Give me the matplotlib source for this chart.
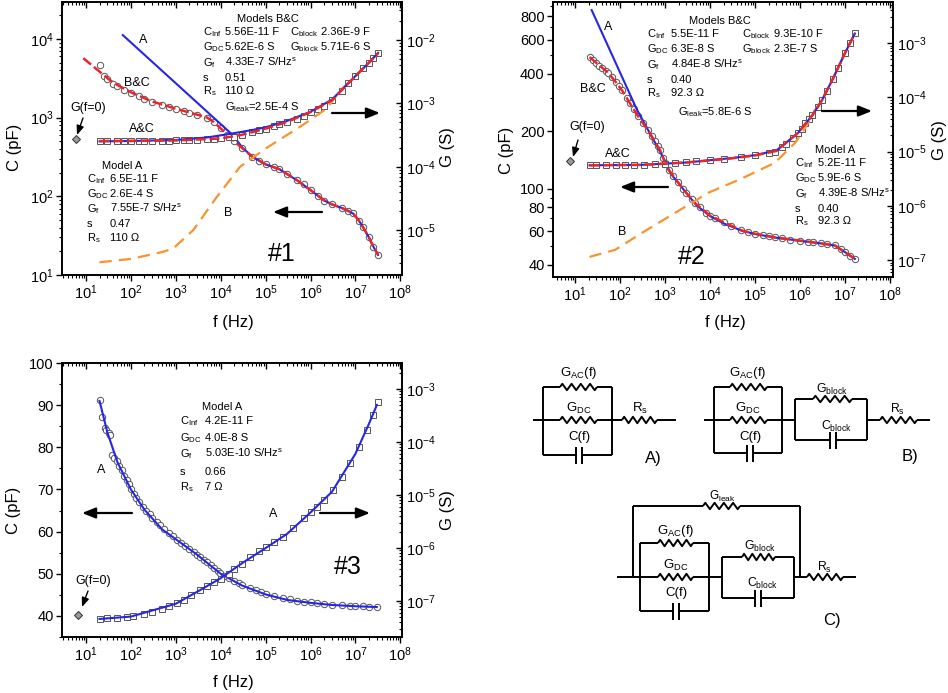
import matplotlib.pyplot as plt
import numpy as np
from matplotlib.ticker import LogLocator, FixedLocator, FuncFormatter, MultipleLocator, NullFormatter

plt.rcParams['font.family'] = ['Liberation Sans', 'DejaVu Sans']
plt.rcParams['mathtext.fontset'] = 'custom'
plt.rcParams['mathtext.rm'] = 'Liberation Sans'
plt.rcParams['mathtext.it'] = 'Liberation Sans:italic'
plt.rcParams['mathtext.sf'] = 'Liberation Sans'
plt.rcParams['mathtext.default'] = 'regular'

# ============================================================
# Data (f in Hz, C in pF, G in S)
# ============================================================

# --- sample #1 ---
f1_c = [20, 25, 30, 40, 50, 70, 100, 150, 200, 300, 500, 700, 1000, 1500, 2000, 3000,
        5000, 7000, 1e4, 1.4e4, 2e4, 3e4, 5e4, 7e4, 1e5, 1.5e5, 2e5, 3e5, 5e5, 7e5,
        1e6, 1.5e6, 2e6, 3e6, 5e6, 7e6, 9e6, 1.2e7, 1.5e7, 2e7, 2.5e7, 3.2e7]
c1 = [4600, 3400, 3100, 2700, 2500, 2250, 2050, 1880, 1750, 1600, 1450, 1370, 1300, 1220,
      1160, 1090, 1000, 880, 730, 610, 500, 410, 320, 285, 255, 237, 224, 190, 159, 142,
      120, 100, 88, 79, 71, 65, 61, 48, 41, 30, 23, 18]
f1_g = [20, 30, 50, 70, 100, 150, 200, 300, 500, 700, 1000, 1500, 2000, 3000, 5000, 7000,
        1e4, 1.5e4, 2e4, 3e4, 5e4, 7e4, 1e5, 1.5e5, 2e5, 3e5, 5e5, 7e5, 1e6, 1.5e6,
        2e6, 3e6, 5e6, 7e6, 1e7, 1.5e7, 2e7, 2.5e7, 3.2e7]
g1 = [2.55e-4, 2.55e-4, 2.55e-4, 2.55e-4, 2.56e-4, 2.56e-4, 2.57e-4, 2.57e-4, 2.58e-4,
      2.59e-4, 2.6e-4, 2.61e-4, 2.62e-4, 2.65e-4, 2.7e-4, 2.74e-4, 2.8e-4, 2.9e-4, 3.0e-4,
      3.2e-4, 3.5e-4, 3.75e-4, 4.0e-4, 4.4e-4, 4.7e-4, 5.1e-4, 5.7e-4, 6.4e-4, 7.3e-4,
      8.2e-4, 9.0e-4, 1.15e-3, 1.55e-3, 2.1e-3, 2.7e-3, 3.6e-3, 4.4e-3, 5.3e-3, 6.2e-3]
modelA_f1_c = [66, 1.86e4, 3e4, 5e4, 1e5, 2e5, 5e5, 1e6, 2e6, 3e6, 5e6, 7e6, 9e6,
               1.2e7, 1.5e7, 2e7, 2.5e7, 3.2e7]
modelA_c1 = [11200, 600, 420, 320, 255, 222, 160, 120, 89, 79, 71, 65, 60, 49, 40, 30, 23, 18]
modelBC_f1_c = [8.7, 20, 34, 50, 100, 300, 1000, 3000, 5000, 7000, 1e4, 1.4e4, 2e4, 3e4,
                5e4, 1e5, 2e5, 5e5, 1e6, 2e6, 3e6, 5e6, 7e6, 9e6, 1.2e7, 1.5e7, 2e7,
                2.5e7, 3.2e7]
modelBC_c1 = [5700, 3850, 3000, 2600, 2100, 1600, 1300, 1090, 1000, 880, 730, 610, 500,
              410, 320, 255, 222, 160, 120, 89, 79, 71, 65, 60, 49, 40, 30, 23, 18]
modelA_f1_g = [20, 100, 1000, 5000, 1.8e4, 5e4, 1e5, 3e5, 1e6, 3e6, 1e7, 2e7, 3.2e7]
modelA_g1 = [2.52e-4, 2.55e-4, 2.65e-4, 2.9e-4, 3.35e-4, 3.8e-4, 4.2e-4, 5.3e-4, 7.4e-4,
             1.15e-3, 2.7e-3, 4.4e-3, 6.3e-3]
modelBC_f1_g = [20, 100, 1000, 1e4, 3e4, 1e5, 3e5, 1e6, 3e6, 1e7, 2e7, 3.2e7]
modelBC_g1 = [2.55e-4, 2.56e-4, 2.6e-4, 2.8e-4, 3.2e-4, 4.0e-4, 5.1e-4, 7.3e-4, 1.12e-3,
              2.7e-3, 4.4e-3, 6.2e-3]
modelB_f1_g = [20, 100, 500, 870, 2450, 8100, 2.7e4, 1.07e5, 5.9e5, 2.3e6, 4.6e6, 1.26e7, 3.2e7]
modelB_g1 = [3.1e-6, 3.5e-6, 4.5e-6, 5.1e-6, 1.0e-5, 3.3e-5, 1.0e-4, 2.0e-4, 4.3e-4,
             8.3e-4, 1.6e-3, 3.2e-3, 6.2e-3]
g0_1 = (6.0, 2.75e-4)

# --- sample #2 ---
f2_c = [21, 25, 30, 35, 40, 48, 55, 65, 80, 95, 110, 140, 166, 200, 250, 320, 420, 520,
        600, 700, 780, 900, 1000, 1200, 1500, 1950, 2500, 3000, 4000, 4700, 6000, 8000,
        1e4, 1.3e4, 2e4, 3e4, 5e4, 7e4, 1e5, 1.5e5, 2e5, 2.8e5, 4e5, 6e5, 1e6, 1.5e6,
        2e6, 3e6, 4e6, 6e6, 8e6, 1e7, 1.3e7, 1.66e7]
c2 = [488, 470, 455, 440, 430, 415, 403, 385, 362, 343, 328, 300, 280, 262, 240, 220, 202,
      188, 178, 167, 159, 145, 137, 126, 116, 108, 100, 95, 88, 84, 80, 75, 72.5, 70, 67,
      64, 60.6, 59.3, 58.3, 57.2, 56.4, 55.7, 55, 54.3, 53.6, 53, 52.5, 51.8, 51.3, 50.6,
      48.6, 46.5, 44.8, 43.2]
f2_g = [21, 30, 50, 80, 130, 200, 350, 600, 1000, 1700, 3000, 5000, 1e4, 2e4, 5e4, 1e5,
        2e5, 2.8e5, 4e5, 5e5, 7e5, 9e5, 1.1e6, 1.3e6, 1.6e6, 1.9e6, 2.5e6, 3.1e6, 4e6,
        5.4e6, 7e6, 1e7, 1.3e7, 1.66e7]
g2 = [5.6e-6, 5.6e-6, 5.6e-6, 5.62e-6, 5.65e-6, 5.67e-6, 5.72e-6, 5.8e-6, 5.9e-6, 6.1e-6,
      6.35e-6, 6.6e-6, 7.0e-6, 7.4e-6, 7.9e-6, 8.6e-6, 9.5e-6, 1.0e-5, 1.2e-5, 1.4e-5,
      1.75e-5, 2.2e-5, 2.6e-5, 3.3e-5, 4.0e-5, 4.7e-5, 6.5e-5, 8.9e-5, 1.3e-4, 2.2e-4,
      3.5e-4, 6.5e-4, 1.0e-3, 1.5e-3]
modelA_f2_c = [23.4, 240, 910, 1200, 1500, 2000, 3000, 5000, 1e4, 2e4, 5e4, 1e5, 3e5,
               1e6, 3e6, 6e6, 1e7, 1.66e7]
modelA_c2 = [860, 258, 146, 126, 116, 107, 95, 82, 72, 66, 60.5, 58, 55.5, 53.5, 51.8,
             50.5, 46.7, 43]
modelBC_f2_c = [21, 40, 55, 80, 110, 166, 250, 420, 780, 1000, 1200, 1950, 3000, 4700,
                1e4, 2e4, 5e4, 1e5, 2.8e5, 1e6, 3e6, 6e6, 1e7, 1.66e7]
modelBC_c2 = [488, 430, 403, 362, 328, 280, 240, 202, 159, 137, 126, 108, 95, 84, 72.5,
              67, 60.6, 58.3, 55.7, 53.6, 51.8, 50.6, 46.5, 43.2]
modelA_f2_g = [21, 300, 3000, 3e4, 1e5, 3e5, 9e5, 1.9e6, 3.1e6, 5.4e6, 1e7, 1.66e7]
modelA_g2 = [5.6e-6, 5.7e-6, 6.3e-6, 7.6e-6, 8.6e-6, 1.05e-5, 2.2e-5, 4.7e-5, 8.9e-5,
             2.2e-4, 6.5e-4, 1.5e-3]
modelBC_f2_g = modelA_f2_g
modelBC_g2 = [5.6e-6, 5.7e-6, 6.3e-6, 7.5e-6, 8.5e-6, 1.03e-5, 2.2e-5, 4.7e-5, 8.9e-5,
              2.2e-4, 6.5e-4, 1.5e-3]
modelB_f2_g = [21, 78, 310, 1660, 9100, 5.1e4, 2.75e5, 7.8e5, 1.3e6, 2.1e6, 3.1e6, 5.4e6,
               1e7, 1.66e7]
modelB_g2 = [1.15e-7, 1.55e-7, 3.2e-7, 7.4e-7, 1.74e-6, 3.2e-6, 6.2e-6, 1.45e-5, 2.7e-5,
             5.6e-5, 8.9e-5, 2.2e-4, 6.5e-4, 1.5e-3]
g0_2 = (7.7, 6.7e-6)

# --- sample #3 ---
f3_c = [20, 23, 26, 28, 32, 34, 38, 42, 48, 55, 62, 70, 80, 90, 100, 115, 130, 150, 186,
        220, 260, 300, 380, 450, 550, 700, 850, 1050, 1300, 1600, 2000, 2500, 3000, 3470,
        4200, 5000, 6000, 7000, 8500, 9550, 1.2e4, 1.5e4, 2e4, 2.5e4, 3e4, 4.5e4, 6e4,
        8e4, 1e5, 1.5e5, 2.45e5, 3.5e5, 5e5, 7e5, 1e6, 1.38e6, 2e6, 3e6, 5e6, 7.6e6,
        1e7, 1.5e7, 2e7, 3e7]
c3 = [91.2, 87.2, 84.5, 84.1, 83.3, 82.9, 78.2, 77.5, 76.8, 75.5, 74.5, 73.2, 72.2, 71.2,
      70.2, 69.0, 68.0, 67.0, 65.9, 64.9, 64.1, 63.3, 62.3, 61.5, 60.7, 59.6, 58.9, 58.1,
      57.3, 56.6, 55.8, 55.1, 54.5, 54.0, 53.3, 52.7, 52.0, 51.4, 50.7, 50.2, 49.5, 48.9,
      48.2, 47.7, 47.3, 46.7, 46.2, 45.7, 45.3, 44.8, 44.3, 43.9, 43.6, 43.4, 43.2, 43.1,
      42.9, 42.7, 42.5, 42.4, 42.3, 42.3, 42.2, 42.2]
f3_g = [20, 30, 50, 80, 112, 200, 300, 500, 700, 1050, 1500, 2200, 3470, 5000, 7000, 1e4,
        1.5e4, 2e4, 3e4, 4.5e4, 7e4, 1e5, 1.5e5, 2.45e5, 4e5, 7e5, 1e6, 1.38e6, 2e6,
        3.2e6, 5e6, 7.6e6, 1.2e7, 1.82e7, 2.5e7, 3.2e7]
g3 = [4.6e-8, 4.7e-8, 4.85e-8, 5.05e-8, 5.2e-8, 5.8e-8, 6.3e-8, 7.1e-8, 7.9e-8, 9.1e-8,
      1.05e-7, 1.3e-7, 1.62e-7, 1.95e-7, 2.3e-7, 2.65e-7, 3.3e-7, 4.0e-7, 5.1e-7, 6.8e-7,
      8.7e-7, 1.05e-6, 1.28e-6, 1.62e-6, 2.4e-6, 3.7e-6, 4.7e-6, 6.0e-6, 8.0e-6, 1.23e-5,
      2.2e-5, 4.0e-5, 8.0e-5, 1.7e-4, 3.3e-4, 5.6e-4]
modelA_f3_c = [20, 30, 50, 100, 200, 500, 1000, 3000, 1e4, 3e4, 1e5, 3e5, 1e6, 3e6, 1e7, 3e7]
modelA_c3 = [91, 83.5, 76.5, 70, 65.2, 60.5, 58.2, 54.5, 50, 47.2, 45.1, 43.8, 43.1, 42.6,
             42.3, 42.1]
modelA_f3_g = [20, 100, 1000, 3000, 1e4, 3e4, 1e5, 3e5, 1e6, 3e6, 1e7, 2e7, 3e7]
modelA_g3 = [4.6e-8, 5.1e-8, 8.9e-8, 1.5e-7, 2.7e-7, 5.2e-7, 1.0e-6, 1.85e-6, 4.7e-6,
             1.15e-5, 6.0e-5, 2.2e-4, 5.0e-4]
g0_3 = (6.6, 5.5e-8)

# tick values
f_ticks = [1e1, 1e2, 1e3, 1e4, 1e5, 1e6, 1e7, 1e8]
c1_ticks = [1e1, 1e2, 1e3, 1e4]
c2_ticks = [40, 60, 80, 100, 200, 400, 600, 800]
c2_minor = [50, 70, 90, 300, 500, 700, 900]
g1_ticks = [1e-5, 1e-4, 1e-3, 1e-2]
g2_ticks = [1e-7, 1e-6, 1e-5, 1e-4, 1e-3]
g3_ticks = [1e-7, 1e-6, 1e-5, 1e-4, 1e-3]

BLUE = '#2626e6'
RED = '#e8262d'
ORANGE = '#f7942f'

W, H = 948, 693
fig = plt.figure(figsize=(W / 100, H / 100), dpi=100)


def frac(x0, y0, x1, y1):
    return [x0 / W, 1 - y1 / H, (x1 - x0) / W, (y1 - y0) / H]


def log_ticks(axis, majors):
    axis.set_major_locator(FixedLocator(majors))
    axis.set_minor_locator(LogLocator(base=10, subs=np.arange(2, 10), numticks=20))
    axis.set_minor_formatter(NullFormatter())


def make_panel(box, xlim, clim, glim, cmode, cticks, gticks):
    ax = fig.add_axes(frac(*box))
    ax.set_xscale('log')
    ax.set_xlim(*xlim)
    log_ticks(ax.xaxis, f_ticks)
    if cmode == 'log':
        ax.set_yscale('log')
        log_ticks(ax.yaxis, cticks)
    elif cmode == 'log_plain':
        ax.set_yscale('log')
        ax.yaxis.set_major_locator(FixedLocator(cticks))
        ax.yaxis.set_minor_locator(FixedLocator(c2_minor))
        ax.yaxis.set_major_formatter(FuncFormatter(lambda v, p: f'{v:g}'))
        ax.yaxis.set_minor_formatter(NullFormatter())
    else:
        ax.yaxis.set_major_locator(MultipleLocator(10))
        ax.yaxis.set_minor_locator(MultipleLocator(5))
    ax.set_ylim(*clim)
    ax.tick_params(which='major', direction='out', length=4, width=1, labelsize=10.5, pad=2)
    ax.tick_params(which='minor', direction='out', length=2, width=0.8)
    ax.tick_params(axis='x', top=False)
    ax.tick_params(axis='y', right=False)

    axg = ax.twinx()
    axg.set_yscale('log')
    log_ticks(axg.yaxis, gticks)
    axg.set_ylim(*glim)
    axg.tick_params(axis='y', which='major', direction='in', length=4, width=1,
                    labelsize=10.5, pad=3)
    axg.tick_params(axis='y', which='minor', direction='in', length=2, width=0.8)
    axg.xaxis.set_visible(True)
    axg.tick_params(axis='x', which='both', direction='in', top=True, bottom=False,
                    labeltop=False, labelbottom=False)
    axg.tick_params(axis='x', which='major', length=4, width=1)
    axg.tick_params(axis='x', which='minor', length=2, width=0.8)
    for a in (ax, axg):
        for s in a.spines.values():
            s.set_linewidth(1.2)
    return ax, axg


def data_marks(ax, f, v, marker):
    ax.plot(f, v, linestyle='none', marker=marker, ms=4.6 if marker == 'o' else 4.2,
            mfc='white', mec='#555555', mew=0.7, zorder=2)


def blue_line(ax, f, v):
    ax.plot(f, v, color=BLUE, lw=1.5, zorder=3)


def red_line(ax, f, v):
    ax.plot(f, v, color=RED, lw=1.8, dashes=(4, 1.5), zorder=4)


def orange_line(ax, f, v):
    ax.plot(f, v, color=ORANGE, lw=1.6, dashes=(5.5, 3.2), zorder=3)


def g0_mark(ax, pt):
    ax.plot([pt[0]], [pt[1]], marker='D', ms=4.5, mfc='#9a9a9a', mec='#333333',
            mew=0.7, linestyle='none', zorder=5)


# ---------------- panel #1 ----------------
ax1, ax1g = make_panel((62, 2, 402, 275), (2.92, 1.09e8), (10, 29500), (1.95e-6, 0.04),
                       'log', c1_ticks, g1_ticks)
data_marks(ax1, f1_c, c1, 'o')
data_marks(ax1g, f1_g, g1, 's')
blue_line(ax1, modelA_f1_c, modelA_c1)
red_line(ax1, modelBC_f1_c, modelBC_c1)
orange_line(ax1g, modelB_f1_g, modelB_g1)
blue_line(ax1g, modelA_f1_g, modelA_g1)
red_line(ax1g, modelBC_f1_g, modelBC_g1)
g0_mark(ax1g, g0_1)

# ---------------- panel #2 ----------------
ax2, ax2g = make_panel((553, 2, 893, 277), (3.24, 1.17e8), (34.6, 947), (4.9e-8, 5.7e-3),
                       'log_plain', c2_ticks, g2_ticks)
data_marks(ax2, f2_c, c2, 'o')
data_marks(ax2g, f2_g, g2, 's')
blue_line(ax2, modelA_f2_c, modelA_c2)
red_line(ax2, modelBC_f2_c, modelBC_c2)
orange_line(ax2g, modelB_f2_g, modelB_g2)
blue_line(ax2g, modelA_f2_g, modelA_g2)
red_line(ax2g, modelBC_f2_g, modelBC_g2)
g0_mark(ax2g, g0_2)

# ---------------- panel #3 ----------------
ax3, ax3g = make_panel((62, 363, 402, 637), (2.92, 1.09e8), (35, 100), (2.1e-8, 3.1e-3),
                       'lin', None, g3_ticks)
data_marks(ax3, f3_c, c3, 'o')
data_marks(ax3g, f3_g, g3, 's')
blue_line(ax3, modelA_f3_c, modelA_c3)
blue_line(ax3g, modelA_f3_g, modelA_g3)
g0_mark(ax3g, g0_3)

# ============================================================
# Overlay in pixel coordinates: labels, arrows, circuits
# ============================================================
ov = fig.add_axes([0, 0, 1, 1])
ov.set_xlim(0, W)
ov.set_ylim(H, 0)
ov.axis('off')
ov.set_zorder(10)

PS = 8.0  # parameter text size


def txt(x, y, s, size=PS, ha='left', **kw):
    ov.text(x, y + size * 0.48, s, fontsize=size, ha=ha, va='baseline', **kw)


def arrow(x0, y0, x1, y1, lw=1.6, big=True):
    style = '-|>,head_length=0.8,head_width=0.32' if big else '-|>,head_length=0.55,head_width=0.22'
    ov.annotate('', xy=(x1, y1), xytext=(x0, y0),
                arrowprops=dict(arrowstyle=style, lw=lw, color='black',
                                shrinkA=0, shrinkB=0))


def block(xl, xv, ys, labels, values):
    for y, l, v in zip(ys, labels, values):
        txt(xl, y, l)
        txt(xv, y, v)


LAB5 = [r'C$_{Inf}$', r'G$_{DC}$', r'G$_{f}$', 's', r'R$_{s}$']
LAB2 = [r'C$_{block}$', r'G$_{block}$']

# axis titles
for (x, y, s) in [(15, 147, 'C (pF)'), (448, 147, 'G (S)'), (233, 322, 'f (Hz)'),
                  (507, 150, 'C (pF)'), (940, 140, 'G (S)'), (725, 322, 'f (Hz)'),
                  (14, 510, 'C (pF)'), (448, 510, 'G (S)'), (233, 682, 'f (Hz)')]:
    rot = 0 if s.startswith('f') else 90
    ov.text(x, y, s, fontsize=12, ha='center', va='center', rotation=rot)

# panel 1 annotations
txt(268, 18, 'Models B&C', ha='center')
block(203, 225, [31, 46, 62, 77, 90], LAB5,
      ['5.56E-11 F', '5.62E-6 S', r'4.33E-7 S/Hz$^{s}$', '0.51', '110 Ω'])
block(290, 321, [31, 46], LAB2, ['2.36E-9 F', '5.71E-6 S'])
txt(225, 106, r'G$_{leak}$=2.5E-4 S')
txt(122, 165, 'Model A', ha='center')
block(87, 110, [178, 193, 208, 223, 237], LAB5,
      ['6.5E-11 F', '2.6E-4 S', r'7.55E-7 S/Hz$^{s}$', '0.47', '110 Ω'])
txt(88, 107, 'G(f=0)', size=9, ha='center')
arrow(83, 118, 77, 135, lw=1.0, big=False)
for (x, y, s) in [(143, 39, 'A'), (137, 82, 'B&C'), (142, 128, 'A&C'), (228, 212, 'B')]:
    txt(x, y, s, size=9, ha='center')
txt(282, 252, '#1', size=18, ha='center')
arrow(332, 113, 380, 113)
arrow(322, 212, 273, 212)

# panel 2 annotations
txt(720, 20, 'Models B&C', ha='center')
block(647, 671, [33, 48, 64, 79, 92], LAB5,
      ['5.5E-11 F', '6.3E-8 S', r'4.84E-8 S/Hz$^{s}$', '0.40', '92.3 Ω'])
block(742, 774, [33, 48], LAB2, ['9.3E-10 F', '2.3E-7 S'])
txt(678, 111, r'G$_{leak}$=5.8E-6 S')
txt(835, 149, 'Model A', ha='center')
block(795, 818, [162, 177, 193, 208, 220], LAB5,
      ['5.2E-11 F', '5.9E-6 S', r'4.39E-8 S/Hz$^{s}$', '0.40', '92.3 Ω'])
txt(587, 126, 'G(f=0)', size=9, ha='center')
arrow(578, 140, 573, 157, lw=1.0, big=False)
for (x, y, s) in [(608, 26, 'A'), (593, 88, 'B&C'), (618, 153, 'A&C'), (622, 231, 'B')]:
    txt(x, y, s, size=9, ha='center')
txt(692, 255, '#2', size=18, ha='center')
arrow(822, 111, 872, 111)
arrow(668, 187, 620, 187)

# panel 3 annotations
txt(222, 406, 'Model A', ha='center')
block(180, 205, [420, 437, 453, 471, 486], LAB5,
      ['4.2E-11 F', '4.0E-8 S', r'5.03E-10 S/Hz$^{s}$', '0.66', '7 Ω'])
txt(93, 580, 'G(f=0)', size=9, ha='center')
arrow(88, 591, 82, 607, lw=1.0, big=False)
txt(101, 469, 'A', size=9, ha='center')
txt(273, 513, 'A', size=9, ha='center')
txt(348, 565, '#3', size=18, ha='center')
arrow(132, 513, 82, 513)
arrow(320, 513, 370, 513)

# ---------------- circuits ----------------
LW = 1.4


def wire(xs, ys):
    ov.plot(xs, ys, color='black', lw=LW, solid_capstyle='butt')


def resistor(x0, x1, y, m=8, a=3.2):
    d = (x1 - x0) / m
    xs = [x0] + [x0 + (k + 0.5) * d for k in range(m)] + [x1]
    ys = [y] + [y + (-a if k % 2 == 0 else a) for k in range(m)] + [y]
    wire(xs, ys)


def capacitor(xa, xb, cx, y, gap=2.6, h0=8, h1=9):
    wire([xa, cx - gap], [y, y])
    wire([cx + gap, xb], [y, y])
    wire([cx - gap, cx - gap], [y - h0, y + h1])
    wire([cx + gap, cx + gap], [y - h0, y + h1])


def rc_box(xl, xr, yt, ym, yb, rx0, rx1, cx, with_mid=True):
    # left/right verticals, top resistor, optional middle resistor, bottom capacitor
    wire([xl, xl], [yt, yb])
    wire([xr, xr], [yt, yb])
    wire([xl, rx0], [yt, yt])
    resistor(rx0, rx1, yt)
    wire([rx1, xr], [yt, yt])
    if with_mid:
        wire([xl, rx0], [ym, ym])
        resistor(rx0, rx1, ym)
        wire([rx1, xr], [ym, ym])
    capacitor(xl, xr, cx, yb)


def clabel(x, y, s, size=9.5):
    ov.text(x, y, s, fontsize=size, ha='center', va='center')


# A)
wire([533, 543], [420, 420])
rc_box(543, 612, 387, 420, 455, 560, 597, 579)
wire([612, 622], [420, 420])
resistor(622, 657, 420)
wire([657, 676], [420, 420])
clabel(579, 373, r'G$_{AC}$(f)')
clabel(579, 408, r'G$_{DC}$')
clabel(579, 437, 'C(f)')
clabel(640, 408, r'R$_{s}$')
clabel(653, 458, 'A)', size=12)

# B)
wire([704, 714], [420, 420])
rc_box(714, 782, 387, 420, 453, 730, 767, 750)
wire([782, 795], [420, 420])
rc_box(795, 867, 399, 420, 440, 813, 852, 833, with_mid=False)
wire([867, 880], [420, 420])
resistor(880, 917, 420)
wire([917, 930], [420, 420])
clabel(748, 373, r'G$_{AC}$(f)')
clabel(748, 408, r'G$_{DC}$')
clabel(750, 437, 'C(f)')
clabel(832, 389, r'G$_{block}$', size=8.8)
clabel(837, 426, r'C$_{block}$', size=8.8)
clabel(898, 409, r'R$_{s}$', size=8.8)
clabel(910, 457, 'B)', size=12)

# C)
wire([617, 640], [577, 577])
wire([633, 633], [506, 577])
wire([633, 703], [506, 506])
resistor(703, 740, 506)
wire([740, 800], [506, 506])
wire([800, 800], [506, 577])
rc_box(640, 709, 543, 577, 611, 658, 693, 676)
wire([709, 722], [577, 577])
rc_box(722, 794, 557, 577, 598, 742, 775, 758, with_mid=False)
wire([794, 807], [577, 577])
resistor(807, 843, 577)
wire([843, 856], [577, 577])
clabel(722, 496, r'G$_{leak}$', size=8.5)
clabel(676, 531, r'G$_{AC}$(f)')
clabel(676, 565, r'G$_{DC}$')
clabel(676, 593, 'C(f)')
clabel(760, 546, r'G$_{block}$', size=8.8)
clabel(763, 583, r'C$_{block}$', size=8.8)
clabel(825, 567, r'R$_{s}$', size=8.8)
clabel(832, 621, 'C)', size=12)

fig.savefig('out.png', dpi=100)
